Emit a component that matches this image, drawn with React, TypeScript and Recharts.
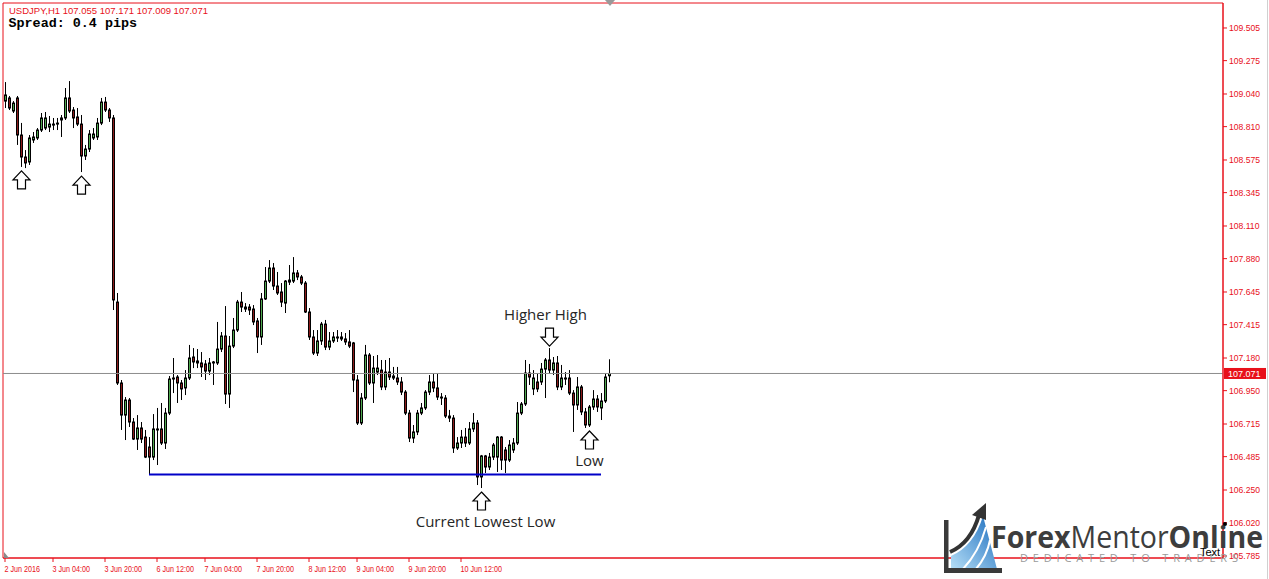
import React from 'react';
import { ComposedChart, Bar, XAxis, YAxis, ReferenceLine, ReferenceDot, ReferenceArea } from 'recharts';

// USDJPY H1 candles, 2 Jun – 10 Jun 2016
const opens = [
  108.990, 109.012, 108.920, 109.012, 108.751, 108.596, 108.561, 108.716, 108.730, 108.786,
  108.800, 108.807, 108.821, 108.828, 108.857, 108.871, 109.012, 108.927, 108.878, 108.828,
  108.603, 108.652, 108.730, 108.737, 108.835, 108.983, 108.927, 108.871, 107.574, 107.004,
  106.778, 106.884, 106.729, 106.609, 106.687, 106.623, 106.553, 106.482, 106.680, 106.680,
  106.581, 106.792, 107.032, 107.046, 107.004, 106.969, 107.039, 107.187, 107.159, 107.145,
  107.138, 107.088, 107.145, 107.145, 107.243, 107.335, 106.926, 107.264, 107.377, 107.574,
  107.539, 107.539, 107.525, 107.441, 107.328, 107.596, 107.722, 107.814, 107.687, 107.645,
  107.567, 107.729, 107.722, 107.779, 107.751, 107.708, 107.504, 107.328, 107.215, 107.300,
  107.419, 107.257, 107.300, 107.328, 107.328, 107.314, 107.293, 107.286, 107.025, 106.722,
  106.898, 107.201, 107.004, 107.081, 107.095, 106.976, 107.081, 107.053, 107.039, 107.011,
  106.940, 106.792, 106.616, 106.659, 106.792, 106.828, 106.940, 107.011, 106.969, 106.905,
  106.898, 106.771, 106.757, 106.546, 106.581, 106.623, 106.581, 106.680, 106.722, 106.342,
  106.490, 106.412, 106.482, 106.482, 106.623, 106.532, 106.461, 106.532, 106.581, 106.792,
  106.856, 107.074, 106.962, 107.011, 107.011, 107.102, 107.166, 107.095, 107.145, 106.976,
  107.039, 107.039, 106.933, 106.849, 106.976, 106.800, 106.708, 106.835, 106.891, 106.828,
  106.877, 107.055,
];

const highs = [
  109.124, 109.026, 108.990, 109.026, 108.836, 108.645, 108.751, 108.772, 108.800, 108.906,
  108.913, 108.885, 108.871, 108.871, 108.892, 109.082, 109.131, 108.948, 108.941, 108.892,
  108.681, 108.786, 108.800, 108.871, 109.012, 109.019, 108.941, 108.892, 107.638, 107.025,
  106.905, 106.898, 106.757, 106.778, 106.729, 106.673, 106.623, 106.785, 106.828, 106.863,
  106.828, 107.053, 107.180, 107.060, 107.025, 107.095, 107.272, 107.250, 107.243, 107.222,
  107.166, 107.180, 107.159, 107.434, 107.363, 107.546, 107.335, 107.462, 107.589, 107.645,
  107.567, 107.560, 107.553, 107.462, 107.638, 107.821, 107.870, 107.849, 107.786, 107.708,
  107.729, 107.835, 107.891, 107.800, 107.765, 107.722, 107.532, 107.377, 107.377, 107.434,
  107.448, 107.363, 107.363, 107.377, 107.363, 107.356, 107.377, 107.293, 107.060, 106.933,
  107.272, 107.215, 107.194, 107.201, 107.166, 107.166, 107.180, 107.117, 107.117, 107.046,
  106.954, 106.814, 106.708, 106.814, 106.863, 106.954, 107.060, 107.074, 107.074, 106.933,
  106.919, 106.814, 106.778, 106.623, 106.673, 106.687, 106.729, 106.792, 106.743, 106.497,
  106.497, 106.511, 106.581, 106.630, 106.630, 106.553, 106.602, 106.616, 106.870, 106.870,
  107.166, 107.138, 107.095, 107.074, 107.145, 107.180, 107.250, 107.187, 107.194, 107.131,
  107.081, 107.095, 106.954, 107.046, 106.990, 106.828, 106.849, 106.954, 106.919, 106.933,
  107.074, 107.171,
];

const lows = [
  108.941, 108.927, 108.906, 108.681, 108.526, 108.518, 108.540, 108.695, 108.716, 108.772,
  108.786, 108.772, 108.786, 108.786, 108.737, 108.857, 108.906, 108.800, 108.814, 108.490,
  108.575, 108.631, 108.716, 108.716, 108.821, 108.913, 108.843, 107.518, 106.990, 106.673,
  106.602, 106.694, 106.602, 106.532, 106.581, 106.475, 106.360, 106.461, 106.426, 106.567,
  106.539, 106.778, 106.933, 106.863, 106.884, 106.919, 107.025, 107.109, 107.109, 107.046,
  107.025, 107.060, 106.990, 107.131, 107.222, 106.856, 106.828, 107.250, 107.363, 107.504,
  107.504, 107.483, 107.412, 107.215, 107.272, 107.589, 107.708, 107.659, 107.624, 107.539,
  107.497, 107.694, 107.708, 107.729, 107.694, 107.497, 107.307, 107.201, 107.194, 107.272,
  107.236, 107.236, 107.286, 107.293, 107.300, 107.272, 107.250, 106.940, 106.708, 106.708,
  106.884, 106.990, 106.863, 107.060, 106.954, 106.954, 107.025, 107.025, 106.990, 106.919,
  106.778, 106.588, 106.581, 106.637, 106.778, 106.814, 106.919, 106.940, 106.884, 106.849,
  106.757, 106.729, 106.511, 106.532, 106.546, 106.553, 106.567, 106.659, 106.285, 106.264,
  106.370, 106.391, 106.461, 106.377, 106.391, 106.370, 106.447, 106.511, 106.567, 106.778,
  106.842, 106.990, 106.919, 106.940, 106.990, 106.898, 107.074, 107.060, 106.954, 106.954,
  106.990, 106.919, 106.659, 106.814, 106.778, 106.687, 106.694, 106.814, 106.800, 106.743,
  106.863, 107.009,
];

const closes = [
  109.033, 108.941, 108.976, 108.751, 108.596, 108.554, 108.730, 108.737, 108.786, 108.871,
  108.871, 108.828, 108.828, 108.835, 108.871, 109.012, 108.920, 108.871, 108.828, 108.603,
  108.652, 108.758, 108.758, 108.835, 108.983, 108.927, 108.871, 107.589, 107.004, 106.778,
  106.884, 106.729, 106.609, 106.687, 106.609, 106.482, 106.482, 106.680, 106.673, 106.581,
  106.792, 107.032, 107.039, 107.004, 106.962, 107.039, 107.180, 107.152, 107.145, 107.117,
  107.088, 107.145, 107.152, 107.243, 107.335, 106.926, 107.264, 107.377, 107.574, 107.539,
  107.525, 107.518, 107.434, 107.328, 107.596, 107.722, 107.814, 107.687, 107.638, 107.574,
  107.722, 107.715, 107.779, 107.751, 107.708, 107.504, 107.328, 107.215, 107.300, 107.419,
  107.257, 107.300, 107.328, 107.321, 107.314, 107.293, 107.264, 107.025, 106.722, 106.898,
  107.201, 107.004, 107.109, 107.109, 106.976, 107.081, 107.046, 107.039, 107.011, 106.940,
  106.792, 106.616, 106.659, 106.792, 106.828, 106.940, 107.011, 106.969, 106.905, 106.898,
  106.771, 106.757, 106.546, 106.581, 106.623, 106.581, 106.680, 106.722, 106.342, 106.490,
  106.412, 106.482, 106.567, 106.623, 106.461, 106.461, 106.567, 106.581, 106.792, 106.856,
  107.074, 107.046, 107.039, 106.962, 107.102, 107.166, 107.095, 107.145, 106.976, 107.039,
  107.032, 106.933, 106.849, 106.976, 106.800, 106.708, 106.835, 106.891, 106.835, 106.877,
  107.046, 107.071,
];

const priceTicks = [
  109.505, 109.275, 109.04, 108.81, 108.575, 108.345, 108.11, 107.88, 107.645,
  107.415, 107.18, 106.95, 106.715, 106.485, 106.25, 106.02, 105.785,
];
const priceMin = 105.771;
const priceMax = 109.681;

// time scale: bar index of each label
const timeTicks = [0, 12, 25, 38, 50, 63, 76, 88, 101, 114];
const timeLabels = [
  '2 Jun 2016', '3 Jun 04:00', '3 Jun 20:00', '6 Jun 12:00', '7 Jun 04:00',
  '7 Jun 20:00', '8 Jun 12:00', '9 Jun 04:00', '9 Jun 20:00', '10 Jun 12:00',
];

const symbol = 'USDJPY,H1';
const lastQuote = [107.055, 107.171, 107.009, 107.071];
const spreadPips = 0.4;
const bidPrice = 107.071;

// support line drawn from the lowest low
const supportFrom = 36;
const supportTo = 149;
const supportLevel = 106.36;

const arrowMarks = [
  { bar: 4, dir: 'up', text: '', dx: 0 },
  { bar: 19, dir: 'up', text: '', dx: 0 },
  { bar: 119, dir: 'up', text: 'Current Lowest Low', dx: 4 },
  { bar: 136, dir: 'down', text: 'Higher High', dx: -4 },
  { bar: 146, dir: 'up', text: 'Low', dx: 0 },
];

const TOTAL_SLOTS = 305; // visible bars incl. chart shift on the right
const RED = '#e8101a';
const BULL = '#4fa84f';
const BEAR = '#8a1a1a';
const AXIS_FONT = '"Liberation Sans", Arial, sans-serif';

const data = Array.from({ length: TOTAL_SLOTS }, (_, i) =>
  i < opens.length
    ? { i, open: opens[i], high: highs[i], low: lows[i], close: closes[i], range: [lows[i], highs[i]] }
    : { i, open: null, high: null, low: null, close: null, range: null },
);

const Candle = (props: any) => {
  const { x, y, width, height, payload } = props;
  if (!payload || payload.open == null) return <g />;
  const { open, high, low, close } = payload;
  const cx = Math.round(x + width / 2) + 0.5;
  const top = Math.min(y, y + height);
  const span = Math.abs(height) || 1;
  const py = (p: number) => top + ((high - p) / (high - low || 1)) * span;
  const bTop = py(Math.max(open, close));
  const bBot = py(Math.min(open, close));
  const up = close >= open;
  return (
    <g>
      <line x1={cx} x2={cx} y1={top} y2={top + span} stroke="#000" strokeWidth={1} />
      <rect
        x={cx - 1}
        y={bTop}
        width={2}
        height={Math.max(bBot - bTop, 0.8)}
        fill={up ? BULL : BEAR}
        stroke="#000"
        strokeWidth={1}
      />
    </g>
  );
};

const Arrow = ({ cx, cy, dir, text, dx }: any) => {
  if (cx == null || cy == null) return <g />;
  const c = Math.round(cx) + 0.5;
  const textStyle = { fontFamily: '"Open Sans", sans-serif', fontSize: 15, fill: '#262626' };
  if (dir === 'up') {
    const t = cy + 4;
    const d = `M${c} ${t} L${c + 8.5} ${t + 9} L${c + 4} ${t + 9} L${c + 4} ${t + 18} L${c - 4} ${t + 18} L${c - 4} ${t + 9} L${c - 8.5} ${t + 9} Z`;
    return (
      <g>
        <path d={d} fill="#fff" stroke="#000" strokeWidth={1.2} />
        {text ? <text x={c + dx} y={t + 35} textAnchor="middle" {...textStyle}>{text}</text> : null}
      </g>
    );
  }
  const t = cy - 2;
  const d = `M${c} ${t} L${c + 8.5} ${t - 9} L${c + 4} ${t - 9} L${c + 4} ${t - 18} L${c - 4} ${t - 18} L${c - 4} ${t - 9} L${c - 8.5} ${t - 9} Z`;
  return (
    <g>
      <path d={d} fill="#fff" stroke="#000" strokeWidth={1.2} />
      {text ? <text x={c + dx} y={t - 26} textAnchor="middle" {...textStyle}>{text}</text> : null}
    </g>
  );
};

// date labels sit to the right of their tick, narrow like the terminal font
const TimeTick = ({ x, y, payload }: any) => {
  const idx = timeTicks.indexOf(Number(payload.value));
  return (
    <g transform={`translate(${x - 0.5},${y + 8}) scale(0.75,1)`}>
      <text x={0} y={0} fill={RED} fontSize={9.6} fontFamily={AXIS_FONT}>
        {timeLabels[idx] ?? ''}
      </text>
    </g>
  );
};

const PriceTag = ({ viewBox }: any) => {
  if (!viewBox) return null;
  const right = viewBox.x + viewBox.width;
  const y = viewBox.y;
  return (
    <g>
      <rect x={right + 1} y={y - 5.5} width={42} height={11} fill={RED} />
      <text x={right + 5} y={y + 3.5} fill="#fff" fontSize={9} fontFamily={AXIS_FONT}>
        {bidPrice.toFixed(3)}
      </text>
    </g>
  );
};

const Overlay = () => (
  <svg width={1269} height={579} style={{ position: 'absolute', left: 0, top: 0, pointerEvents: 'none' }}>
    <text x={9} y={14} fill={RED} fontSize={9.5} fontFamily={AXIS_FONT}>
      {`${symbol}  ${lastQuote.map((v) => v.toFixed(3)).join(' ')}`}
    </text>
    <text x={8.5} y={27} fill="#000" fontSize={13.4} fontWeight="bold" fontFamily='"Liberation Mono", monospace'>
      {`Spread: ${spreadPips} pips`}
    </text>
    {/* chart shift marker and corner marker */}
    <polygon points="605,0 615,0 610,6" fill="#9a9a9a" />
    <polygon points="4,552 4,558 9,558" fill="#8a8a8a" />
    <line x1={1267.5} x2={1267.5} y1={0} y2={579} stroke="#d0d0d0" />
    {/* watermark */}
    <defs>
      <linearGradient id="swoosh" x1="0" y1="1" x2="1" y2="0">
        <stop offset="0" stopColor="#b5def7" />
        <stop offset="1" stopColor="#1a6cbd" />
      </linearGradient>
    </defs>
    <path d="M951 556 Q 974 546 983 516 L 997 569 L 951 569 Z" fill="url(#swoosh)" />
    <path d="M963 569 Q 979 552 986 527" stroke="#fff" strokeWidth={2} fill="none" />
    <path d="M976 569 Q 987 556 990 540" stroke="#fff" strokeWidth={2} fill="none" />
    <path d="M950 552 Q 971 543 979 515" stroke="#333" strokeWidth={4} fill="none" />
    <polygon points="972,515 986,503 986,520" fill="#333" />
    <rect x={944} y={520} width={4.5} height={53} fill="#3a3a3a" />
    <rect x={944} y={568} width={58} height={5} fill="#3a3a3a" />
    <text x={991} y={548} fill="#3d3d3d" fontSize={31} textLength={272} lengthAdjust="spacingAndGlyphs"
      fontFamily='"Open Sans", sans-serif'>
      <tspan fontWeight="bold">Forex</tspan>
      <tspan>Mentor</tspan>
      <tspan fontWeight="bold">Online</tspan>
    </text>
    <text x={1020} y={562} fill="#9a9a9a" fontSize={11} textLength={218} lengthAdjust="spacing"
      fontFamily='"Open Sans", sans-serif'>
      DEDICATED TO TRADERS
    </text>
    <text x={1200} y={556} fill="#000" fontSize={11} fontFamily={AXIS_FONT}>Text</text>
    <circle cx={1225} cy={524} r={2} fill="#000" />
  </svg>
);

export default function App() {
  return (
    <div style={{ position: 'absolute', left: 0, top: 0, width: 1269, height: 579, background: '#fff', overflow: 'hidden' }}>
      <ComposedChart width={1269} height={579} data={data} margin={{ top: 3, right: 0, bottom: 0, left: 3 }}>
        <XAxis
          dataKey="i"
          ticks={timeTicks}
          interval={0}
          height={21}
          axisLine={{ stroke: RED }}
          tickLine={{ stroke: RED }}
          tickSize={4}
          tickMargin={2}
          tick={<TimeTick />}
        />
        <YAxis
          orientation="right"
          type="number"
          width={46}
          domain={[priceMin, priceMax]}
          ticks={priceTicks}
          interval={0}
          allowDataOverflow
          axisLine={{ stroke: RED }}
          tickLine={{ stroke: RED }}
          tickSize={4}
          tickMargin={2}
          tickFormatter={(v: number) => v.toFixed(3)}
          tick={{ fill: RED, fontSize: 8.6, fontFamily: AXIS_FONT }}
        />
        {/* chart frame */}
        <ReferenceArea y1={priceMin} y2={priceMax} fill="none" fillOpacity={0} stroke={RED} strokeWidth={1} />
        <ReferenceLine y={bidPrice} stroke="#8c8c8c" label={(p: any) => <PriceTag {...p} />} />
        <Bar dataKey="range" shape={<Candle />} isAnimationActive={false} />
        <ReferenceLine
          segment={[{ x: supportFrom, y: supportLevel }, { x: supportTo, y: supportLevel }]}
          stroke="#0000c8"
          strokeWidth={2}
        />
        {arrowMarks.map((m) => (
          <ReferenceDot
            key={m.bar}
            x={m.bar}
            y={m.dir === 'up' ? lows[m.bar] : highs[m.bar]}
            shape={(p: any) => <Arrow {...p} dir={m.dir} text={m.text} dx={m.dx} />}
          />
        ))}
      </ComposedChart>
      <Overlay />
    </div>
  );
}
